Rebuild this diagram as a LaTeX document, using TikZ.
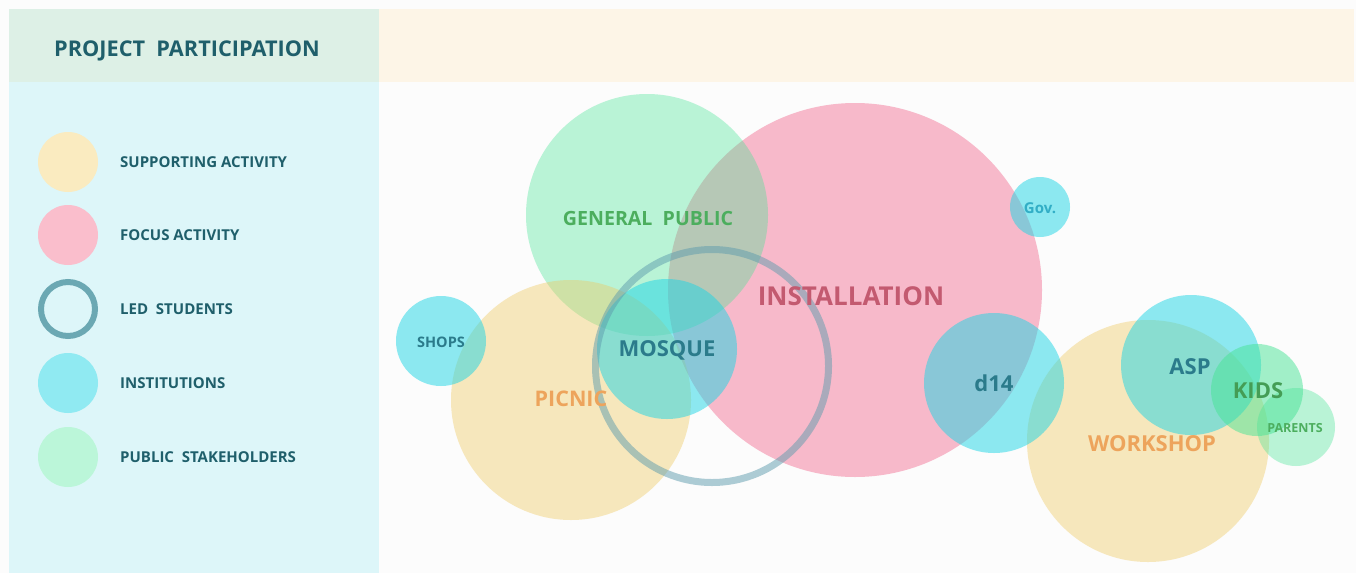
\documentclass[tikz,border=0pt]{standalone}
\usepackage{fontspec}
\setmainfont{Open Sans}
\usepackage{xcolor}
\usetikzlibrary{positioning}

\definecolor{fondpage}{HTML}{FCFCFC}
\definecolor{fondlegende}{HTML}{DDF6F9}
\definecolor{fondtitre}{HTML}{DDF0E6}
\definecolor{fondbandeau}{HTML}{FDF5E7}
\definecolor{jaune}{HTML}{EFC85E}
\definecolor{rose}{HTML}{F7B9CA}
\definecolor{cyan}{HTML}{1DD5E5}
\definecolor{vert}{HTML}{47E496}
\definecolor{anneau}{HTML}{5E9CAD}
\definecolor{lgjaune}{HTML}{FAEBC0}
\definecolor{lgrose}{HTML}{FABECC}
\definecolor{lgcyan}{HTML}{90EAF2}
\definecolor{lgvert}{HTML}{BBF6D9}
\definecolor{lganneau}{HTML}{6BA8B3}
\definecolor{texte}{HTML}{1F5F6B}
\definecolor{txtvert}{HTML}{4CAE5E}
\definecolor{txtrose}{HTML}{C35A70}
\definecolor{txtorange}{HTML}{EDA45C}
\definecolor{txtcyan}{HTML}{2B7B8B}
\definecolor{txtgov}{HTML}{32AEC6}

\tikzset{
  bulle/.style={circle, inner sep=0pt, minimum size=#1},
  jaunebulle/.style={bulle=#1, fill=jaune, fill opacity=.4},
  rosebulle/.style={bulle=#1, fill=rose},
  cyanbulle/.style={bulle=#1, fill=cyan, fill opacity=.5},
  vertbulle/.style={bulle=#1, fill=vert, fill opacity=.37},
  etiquette/.style={font=\bfseries\fontsize{#1}{#1}\selectfont, inner sep=0pt},
  legende/.style={anchor=west, text=texte, font=\bfseries\fontsize{15}{15}\selectfont, inner sep=0pt},
}

\begin{document}
\begin{tikzpicture}[x=1pt, y=-1pt] % 1 px = 1 pt
% Fonds
\fill[fondpage] (0, 0) rectangle (1356, 573);
\useasboundingbox (0, 0) rectangle (1356, 573);
\fill[fondtitre] (9, 9) rectangle (379, 82);
\fill[fondbandeau] (379, 9) rectangle (1354, 82);
\fill[fondlegende] (9, 82) rectangle (379, 573);

% Titre
\node[etiquette=21.7, text=texte, anchor=west] (titre) at (54, 51) {PROJECT~ PARTICIPATION};

% Légende
\node[bulle=60, fill=lgjaune] (lgj) at (68, 162) {};
\node[bulle=60, fill=lgrose] (lgr) at (68, 235) {};
\node[bulle=54, draw=lganneau, line width=6] (lga) at (68, 309) {};
\node[bulle=60, fill=lgcyan] (lgc) at (68, 383) {};
\node[bulle=60, fill=lgvert] (lgv) at (68, 457) {};
\node[legende] (lgt1) at (120, 162) {SUPPORTING ACTIVITY};
\node[legende] (lgt2) at (120, 235) {FOCUS ACTIVITY};
\node[legende] (lgt3) at (120, 309) {LED~ STUDENTS};
\node[legende] (lgt4) at (120, 383) {INSTITUTIONS};
\node[legende] (lgt5) at (120, 457) {PUBLIC~ STAKEHOLDERS};

% Bulles (l'ordre compte : les transparences se superposent)
\node[rosebulle=374] (install) at (855, 290) {};
\node[vertbulle=242] (public) at (647, 215) {};
\node[jaunebulle=240] (picnic) at (571, 400) {};
\node[cyanbulle=90] (shops) at (441, 341) {};
\node[cyanbulle=140] (mosque) at (667, 349) {};
\node[cyanbulle=60] (gov) at (1040, 207) {};
\node[jaunebulle=242] (workshop) at (1148, 441) {};
\node[cyanbulle=140] (d14) at (994, 383) {};
\node[cyanbulle=140] (asp) at (1191, 365) {};
\node[bulle=92, fill=vert, fill opacity=.5] (kids) at (1257, 390) {};
\node[vertbulle=78] (parents) at (1296, 427) {};
% Anneau des étudiants
\node[bulle=233, draw=anneau, draw opacity=.5, line width=7] (led) at (712, 366) {};

% Etiquettes
\node[etiquette=19.6, text=txtvert] (publict) at (648, 218) {GENERAL~ PUBLIC};
\node[etiquette=26, text=txtrose] (installt) at (851, 296) {INSTALLATION};
\node[etiquette=21.5, text=txtorange] (picnict) at (571, 399) {PICNIC};
\node[etiquette=14.5, text=txtcyan] (shopst) at (441, 342) {SHOPS};
\node[etiquette=22, text=txtcyan] (mosquet) at (667, 350) {MOSQUE};
\node[etiquette=15, text=txtgov] (govt) at (1040, 208) {Gov.};
\node[etiquette=22, text=txtcyan] (d14t) at (994, 383) {d14};
\node[etiquette=22, text=txtorange] (workshopt) at (1152, 444) {WORKSHOP};
\node[etiquette=22, text=txtcyan] (aspt) at (1190, 367) {ASP};
\node[etiquette=22, text=txtvert!90!black] (kidst) at (1258, 391) {KIDS};
\node[etiquette=12.5, text=txtvert] (parentst) at (1295, 428) {PARENTS};
\end{tikzpicture}
\end{document}
